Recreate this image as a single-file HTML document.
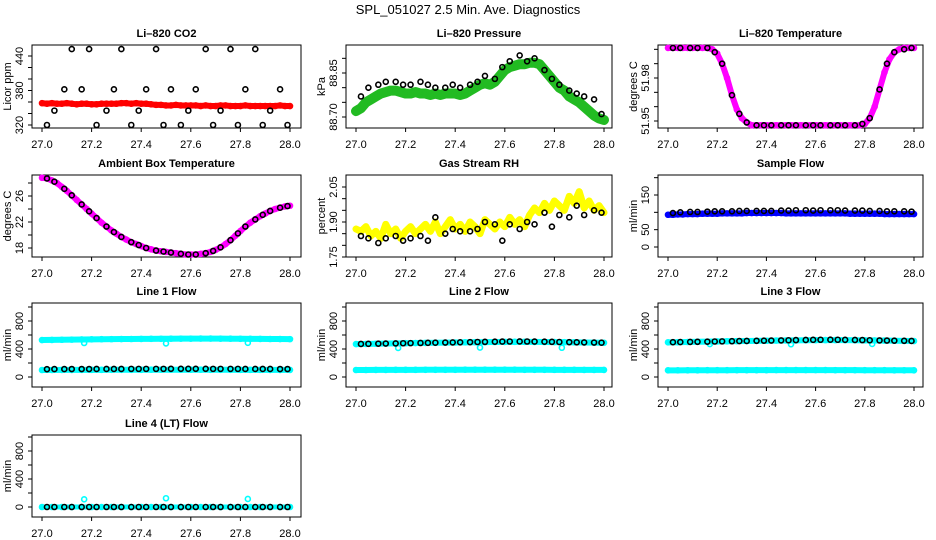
<!DOCTYPE html>
<html><head><meta charset="utf-8"><style>
html,body{margin:0;padding:0;background:#fff;}
svg{display:block;font-family:"Liberation Sans",Arial,sans-serif;}
</style></head><body>
<svg id="chart" width="936" height="540" viewBox="0 0 936 540" xmlns="http://www.w3.org/2000/svg">
<rect width="936" height="540" fill="#fff"/>
<text x="468" y="14" text-anchor="middle" font-size="13">SPL_051027  2.5 Min. Ave. Diagnostics</text>
</svg>
<script>
const denseX=[27.00,27.02,27.04,27.06,27.08,27.10,27.12,27.14,27.16,27.18,27.20,27.22,27.24,27.26,27.28,27.30,27.32,27.34,27.36,27.38,27.40,27.42,27.44,27.46,27.48,27.50,27.52,27.54,27.56,27.58,27.60,27.62,27.64,27.66,27.68,27.70,27.72,27.74,27.76,27.78,27.80,27.82,27.84,27.86,27.88,27.90,27.92,27.94,27.96,27.98,28.00];
const blackX=[27.02,27.05,27.09,27.12,27.16,27.19,27.22,27.26,27.29,27.32,27.36,27.39,27.42,27.46,27.49,27.52,27.56,27.59,27.62,27.66,27.69,27.72,27.76,27.79,27.82,27.86,27.89,27.92,27.96,27.99];
const flowX=[27.00,27.04,27.08,27.12,27.16,27.20,27.24,27.28,27.32,27.36,27.40,27.44,27.48,27.52,27.56,27.60,27.64,27.68,27.72,27.76,27.80,27.84,27.88,27.92,27.96,28.00];
const outX=[27.17,27.50,27.83];
const xTicks=[27.0,27.2,27.4,27.6,27.8,28.0];
const xTickLabels=["27.0","27.2","27.4","27.6","27.8","28.0"];

const co2Red=[358,357,358,357,357,358,357,356,357,357,356,356,357,357,357,357,358,358,357,358,357,357,356,355,355,354,354,355,354,354,354,354,353,354,353,353,354,354,353,353,353,354,353,353,353,353,353,353,354,353,353];
const co2Black=[320,345,382,452,382,452,320,345,382,452,320,345,382,452,320,382,320,345,382,452,320,345,452,320,382,452,320,345,382,320];

const presGreen=[88.72,88.73,88.75,88.76,88.77,88.78,88.785,88.79,88.79,88.785,88.78,88.78,88.785,88.78,88.78,88.775,88.78,88.775,88.78,88.78,88.78,88.775,88.78,88.79,88.80,88.81,88.815,88.81,88.82,88.84,88.86,88.87,88.875,88.88,88.88,88.885,88.885,88.88,88.86,88.84,88.82,88.80,88.79,88.77,88.76,88.75,88.735,88.72,88.705,88.695,88.69];
const presBlack=[88.77,88.80,88.81,88.82,88.82,88.81,88.81,88.82,88.81,88.80,88.80,88.81,88.80,88.81,88.82,88.84,88.83,88.87,88.89,88.91,88.89,88.90,88.86,88.83,88.81,88.79,88.78,88.77,88.76,88.71];

const tempMag=[52.001,52.001,52.001,52.001,52.001,52.001,52.001,52.001,52.001,52.000,51.997,51.990,51.980,51.968,51.958,51.952,51.949,51.947,51.947,51.947,51.947,51.947,51.947,51.947,51.947,51.947,51.947,51.947,51.947,51.947,51.947,51.947,51.947,51.947,51.947,51.947,51.947,51.947,51.947,51.947,51.948,51.952,51.960,51.972,51.984,51.993,51.998,52.000,52.001,52.001,52.001];
const tempBlack=[52.001,52.001,52.001,52.001,52.001,51.998,51.990,51.968,51.955,51.949,51.947,51.947,51.947,51.947,51.947,51.947,51.947,51.947,51.947,51.947,51.947,51.947,51.947,51.948,51.952,51.972,51.990,51.998,52.000,52.001];

const ambMag=[28.8,28.7,28.4,28.0,27.4,26.8,26.1,25.4,24.7,24.0,23.3,22.6,21.9,21.3,20.7,20.2,19.7,19.3,18.9,18.6,18.3,18.0,17.8,17.6,17.5,17.4,17.3,17.2,17.1,17.0,17.0,17.0,17.1,17.2,17.4,17.7,18.1,18.6,19.2,19.9,20.6,21.3,21.9,22.4,22.9,23.3,23.7,24.0,24.2,24.4,24.5];
const ambBlack=[28.7,28.2,27.1,26.1,24.7,23.65,22.6,21.3,20.45,19.7,18.9,18.45,18.0,17.6,17.45,17.3,17.1,17.0,17.0,17.2,17.55,18.1,19.2,20.25,21.3,22.4,23.1,23.7,24.2,24.45];

const rhYellow=[1.87,1.86,1.88,1.84,1.86,1.83,1.89,1.85,1.87,1.83,1.86,1.88,1.85,1.87,1.89,1.86,1.90,1.85,1.88,1.91,1.87,1.89,1.86,1.90,1.88,1.85,1.91,1.89,1.87,1.90,1.88,1.92,1.89,1.91,1.88,1.93,1.96,1.94,1.98,1.95,1.99,1.97,1.95,2.01,1.98,2.03,1.96,1.99,1.95,1.97,1.94];
const rhBlack=[1.84,1.83,1.81,1.83,1.84,1.82,1.83,1.84,1.82,1.92,1.85,1.87,1.86,1.86,1.87,1.90,1.89,1.82,1.89,1.87,1.90,1.89,1.94,1.88,1.93,1.92,1.97,1.93,1.95,1.94];

const sfBlue=[93,93,94,94,95,95,95,96,96,96,96,97,97,97,97,97,98,98,98,98,98,98,98,98,97,97,97,97,97,97,97,97,97,97,97,97,97,96,96,96,96,96,96,96,95,95,95,95,95,95,95];
const sfBlack=[98,100,101,101,102,103,103,103,104,104,104,104,104,105,105,106,106,105,106,106,106,105,105,105,104,104,103,103,103,102];

const l1CyanHigh=[528,530,532,534,536,538,540,541,542,543,544,545,546,547,548,548,549,549,548,547,546,545,544,543,542,541];
const l1CyanLow=[100,100,101,101,102,102,102,103,103,103,103,104,104,104,104,104,104,103,103,103,102,102,102,101,101,101];
const l1Black=[112,113,113,114,114,114,115,115,115,115,116,116,116,116,116,117,117,117,117,117,116,116,116,116,115,115,115,115,114,114];
const l1Out=[486,480,488];
const l2CyanHigh=[470,472,475,478,480,483,485,487,489,491,493,495,497,498,500,501,502,502,501,500,499,497,495,493,491,489];
const l2CyanLow=[100,100,101,101,102,102,102,103,103,103,103,104,104,104,104,104,104,103,103,103,102,102,102,101,101,101];
const l2Black=[472,474,476,478,480,482,484,486,488,490,492,494,496,498,500,502,504,506,507,508,507,506,504,502,500,498,496,494,492,490];
const l2Out=[415,420,418];
const l3CyanHigh=[495,497,500,503,505,508,510,512,514,516,518,520,522,523,525,526,527,527,526,525,524,522,520,518,516,514];
const l3CyanLow=[95,95,96,96,97,97,97,98,98,98,98,99,99,99,99,99,99,98,98,98,97,97,97,96,96,96];
const l3Black=[497,499,501,503,505,507,509,511,513,515,517,519,521,523,525,527,529,531,532,533,532,531,529,527,525,523,521,519,517,515];
const l3Out=[470,468,472];
const l4CyanLow=[0,0,0,0,0,0,0,0,0,0,0,0,0,0,0,0,0,0,0,0,0,0,0,0,0,0];
const l4Black=[0,0,0,0,0,0,0,0,0,0,0,0,0,0,0,0,0,0,0,0,0,0,0,0,0,0,0,0,0,0];
const l4Out=[110,125,115];

const svg=document.getElementById('chart');
const NS='http://www.w3.org/2000/svg';
function mk(tag,attrs,parent){const e=document.createElementNS(NS,tag);for(const k in attrs)e.setAttribute(k,attrs[k]);(parent||svg).appendChild(e);return e;}

const cols=[{l:32,r:301,x0:42,x1:290},{l:346,r:612,x0:356,x1:604},{l:658,r:923,x0:668,x1:914}];
const rows=[{t:45,b:128},{t:175,b:257},{t:303,b:387},{t:435,b:517}];

function panel(p){
  const c=cols[p.c],r=rows[p.r];
  const g=mk('g',{});
  
  
  const xs=v=>c.x0+(v-27)*(c.x1-c.x0);
  const ys=v=>p.ya[1]+(v-p.ya[0])*(p.ya[3]-p.ya[1])/(p.ya[2]-p.ya[0]);
  const box=mk('rect',{x:c.l,y:r.t,width:c.r-c.l,height:r.b-r.t,fill:'none',stroke:'#000','stroke-width':1},g);
  
  
  const t=mk('text',{x:(c.l+c.r)/2,y:r.t-8,'text-anchor':'middle','font-size':11,'font-weight':'bold'},g);
  t.textContent=p.title;
  
  
  const yl=mk('text',{x:c.l-21,y:(r.t+r.b)/2,'text-anchor':'middle','font-size':11,transform:`rotate(-90 ${c.l-21} ${(r.t+r.b)/2})`},g);
  yl.textContent=p.ylab;
  
  
  xTicks.forEach((v,i)=>{
    const x=xs(v);
    mk('line',{x1:x,x2:x,y1:r.b,y2:r.b+4,stroke:'#000'},g);
    const tx=mk('text',{x:x,y:r.b+20,'text-anchor':'middle','font-size':11},g);
    tx.textContent=xTickLabels[i];
    
    
  });
  p.ticks.forEach((v,i)=>{
    const y=ys(v);
    mk('line',{x1:c.l-4,x2:c.l,y1:y,y2:y,stroke:'#000'},g);
    if(p.labels[i]){
      const tx=mk('text',{x:c.l-9,y:y,'text-anchor':'middle','font-size':11,transform:`rotate(-90 ${c.l-9} ${y})`},g);
      tx.textContent=p.labels[i];
      
      
    }
  });
  p.series.forEach(s=>{
    const sg=mk('g',{},g);
    
    
    if(s.band){
      const pts=s.x.map((v,i)=>xs(v)+','+ys(s.y[i])).join(' ');
      mk('polyline',{points:pts,fill:'none',stroke:s.color,'stroke-width':s.band,'stroke-linejoin':'round','stroke-linecap':'round'},sg);
    }
    s.x.forEach((v,i)=>{
      const pt=mk('circle',{cx:xs(v),cy:ys(s.y[i]),r:2.5,fill:'none',stroke:s.color,'stroke-width':1.6},sg);
      
      
    });
  });
}

const flowTicks=[0,200,400,600,800,1000],flowLabels=["0","","400","","800",""];
panel({name:'co2-panel',c:0,r:0,title:'Li–820 CO2',ylab:'Licor ppm',ya:[320,125,440,56],ticks:[320,340,360,380,400,420,440],labels:["320","","","380","","","440"],
 series:[{name:'co2-red-series',x:denseX,y:co2Red,color:'#f00',band:6},{name:'co2-black-series',x:blackX,y:co2Black,color:'#000'}]});
panel({name:'pressure-panel',c:1,r:0,title:'Li–820 Pressure',ylab:'kPa',ya:[88.70,117,88.85,73],ticks:[88.70,88.75,88.80,88.85,88.90],labels:["88.70","","","88.85",""],
 series:[{name:'pressure-green-series',x:denseX,y:presGreen,color:'#22bb22',band:10},{name:'pressure-black-series',x:blackX,y:presBlack,color:'#000'}]});
panel({name:'temperature-panel',c:2,r:0,title:'Li–820 Temperature',ylab:'degrees C',ya:[51.95,121,51.98,78],ticks:[51.95,51.96,51.97,51.98,51.99,52.00],labels:["51.95","","","51.98","",""],
 series:[{name:'temperature-magenta-series',x:denseX,y:tempMag,color:'#ff00ff',band:6},{name:'temperature-black-series',x:blackX,y:tempBlack,color:'#000'}]});
panel({name:'ambient-panel',c:0,r:1,title:'Ambient Box Temperature',ylab:'degrees C',ya:[18,248,26,196],ticks:[18,20,22,24,26,28],labels:["18","","22","","26",""],
 series:[{name:'ambient-magenta-series',x:denseX,y:ambMag,color:'#ff00ff',band:6},{name:'ambient-black-series',x:blackX,y:ambBlack,color:'#000'}]});
panel({name:'rh-panel',c:1,r:1,title:'Gas Stream RH',ylab:'percent',ya:[1.75,257,2.05,187],ticks:[1.75,1.80,1.85,1.90,1.95,2.00,2.05],labels:["1.75","","","1.90","","","2.05"],
 series:[{name:'rh-yellow-series',x:denseX,y:rhYellow,color:'#ffff00',band:7},{name:'rh-black-series',x:blackX,y:rhBlack,color:'#000'}]});
panel({name:'sample-flow-panel',c:2,r:1,title:'Sample Flow',ylab:'ml/min',ya:[0,247,150,195],ticks:[0,50,100,150,200],labels:["0","50","","150",""],
 series:[{name:'sample-blue-series',x:denseX,y:sfBlue,color:'#0000ff',band:6},{name:'sample-black-series',x:blackX,y:sfBlack,color:'#000'}]});
panel({name:'line1-panel',c:0,r:2,title:'Line 1 Flow',ylab:'ml/min',ya:[0,377,800,321],ticks:flowTicks,labels:flowLabels,
 series:[{name:'line1-cyan-high',x:flowX,y:l1CyanHigh,color:'#00ffff',band:6},{name:'line1-cyan-low',x:flowX,y:l1CyanLow,color:'#00ffff',band:6},{name:'line1-cyan-outliers',x:outX,y:l1Out,color:'#00ffff'},{name:'line1-black-series',x:blackX,y:l1Black,color:'#000'}]});
panel({name:'line2-panel',c:1,r:2,title:'Line 2 Flow',ylab:'ml/min',ya:[0,377,800,321],ticks:flowTicks,labels:flowLabels,
 series:[{name:'line2-cyan-high',x:flowX,y:l2CyanHigh,color:'#00ffff',band:6},{name:'line2-cyan-low',x:flowX,y:l2CyanLow,color:'#00ffff',band:6},{name:'line2-cyan-outliers',x:outX,y:l2Out,color:'#00ffff'},{name:'line2-black-series',x:blackX,y:l2Black,color:'#000'}]});
panel({name:'line3-panel',c:2,r:2,title:'Line 3 Flow',ylab:'ml/min',ya:[0,377,800,321],ticks:flowTicks,labels:flowLabels,
 series:[{name:'line3-cyan-high',x:flowX,y:l3CyanHigh,color:'#00ffff',band:6},{name:'line3-cyan-low',x:flowX,y:l3CyanLow,color:'#00ffff',band:6},{name:'line3-cyan-outliers',x:outX,y:l3Out,color:'#00ffff'},{name:'line3-black-series',x:blackX,y:l3Black,color:'#000'}]});
panel({name:'line4-panel',c:0,r:3,title:'Line 4 (LT) Flow',ylab:'ml/min',ya:[0,507,800,451],ticks:flowTicks,labels:flowLabels,
 series:[{name:'line4-cyan-low',x:flowX,y:l4CyanLow,color:'#00ffff',band:5},{name:'line4-cyan-outliers',x:outX,y:l4Out,color:'#00ffff'},{name:'line4-black-series',x:blackX,y:l4Black,color:'#000'}]});
</script>
</body></html>
